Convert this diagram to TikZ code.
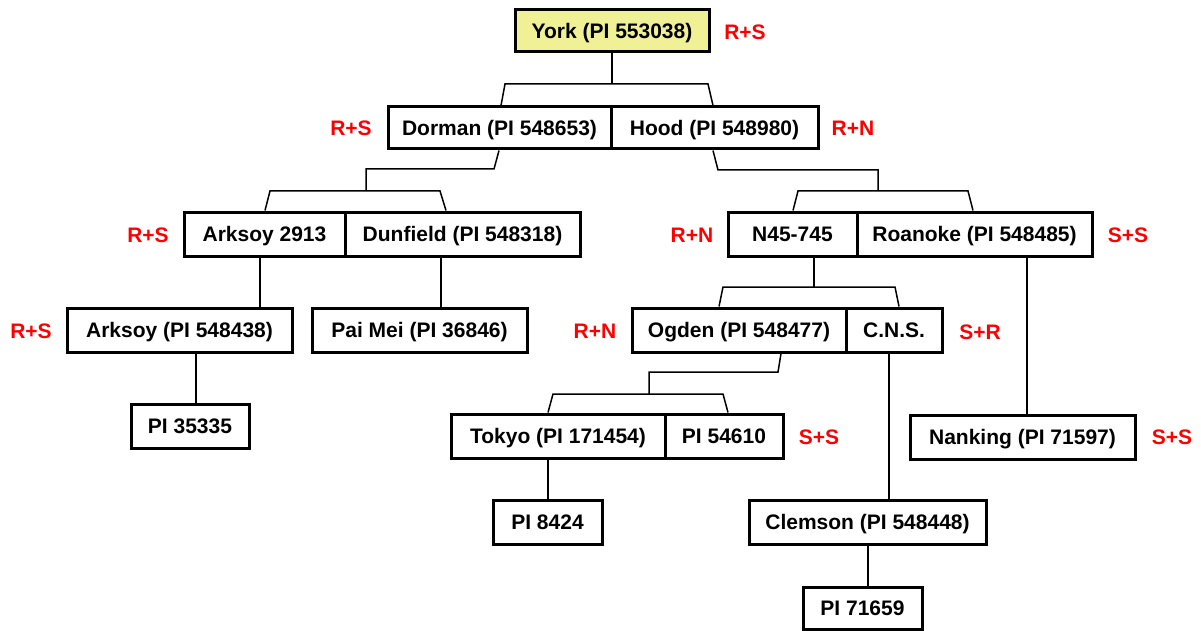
\documentclass[tikz,border=0pt]{standalone}
\usepackage{fontspec}
\setmainfont{Liberation Sans}
\definecolor{yorkfill}{RGB}{240,240,150}
\begin{document}
\begin{tikzpicture}[x=1pt,y=-1pt,
    box/.style={draw,line width=3pt,fill=white,inner sep=0pt,minimum height=44pt,
      text height=15pt,text depth=0pt,font=\fontsize{21}{25}\selectfont\bfseries},
    cross/.style={text=red,font=\fontsize{21}{25}\selectfont\bfseries},
    link/.style={line width=1.5pt}]
  \useasboundingbox (0,0) rectangle (1201,631);
  % generation 0 and 1
  \node[box,fill=yorkfill,minimum width=194pt,minimum height=42pt] (york) at (612,31) {York (PI 553038)};
  \node[cross] (yorkx) at (745,32) {R+S};
  \node[box,minimum width=223pt,minimum height=42pt] (dorman) at (499.5,128) {Dorman (PI 548653)};
  \node[box,minimum width=207pt,minimum height=42pt] (hood) at (714.5,128) {Hood (PI 548980)};
  \node[cross] (dormanx) at (351,128) {R+S};
  \node[cross] (hoodx) at (853,128) {R+N};
  % generation 2
  \node[box,minimum width=161pt] (ark2913) at (264.5,234) {Arksoy 2913};
  \node[box,minimum width=235pt] (dunfield) at (462.5,234) {Dunfield (PI 548318)};
  \node[box,minimum width=129pt] (n45) at (792.5,234) {N45-745};
  \node[box,minimum width=235pt] (roanoke) at (974.5,234) {Roanoke (PI 548485)};
  \node[cross] (ark2913x) at (148,235) {R+S};
  \node[cross] (n45x) at (692,235) {R+N};
  \node[cross] (roanokex) at (1128,235) {S+S};
  % generation 3
  \node[box,minimum width=225pt] (arkpi) at (179.5,330) {Arksoy (PI 548438)};
  \node[box,minimum width=215pt] (paimei) at (419.5,330) {Pai Mei (PI 36846)};
  \node[box,minimum width=214pt] (ogden) at (739,330) {Ogden (PI 548477)};
  \node[box,minimum width=96pt] (cns) at (894,330) {C.N.S.};
  \node[cross] (arkpix) at (31,331) {R+S};
  \node[cross] (ogdenx) at (595,331) {R+N};
  \node[cross] (cnsx) at (980,332) {S+R};
  % generation 4 and further
  \node[box,minimum width=118pt] (pi35335) at (190,426) {PI 35335};
  \node[box,minimum width=214pt] (tokyo) at (558,436) {Tokyo (PI 171454)};
  \node[box,minimum width=118pt] (pi54610) at (724,436) {PI 54610};
  \node[box,minimum width=225pt] (nanking) at (1022.5,437) {Nanking (PI 71597)};
  \node[cross] (tokyox) at (819,437) {S+S};
  \node[cross] (nankingx) at (1172,437) {S+S};
  \node[box,minimum width=109pt] (pi8424) at (547.5,522) {PI 8424};
  \node[box,minimum width=237pt] (clemson) at (867.5,522) {Clemson (PI 548448)};
  \node[box,minimum width=119pt,minimum height=42pt] (pi71659) at (862.5,608) {PI 71659};
  % brackets
  \draw[link] (york.south) -- (york.south |- 0,84);
  \draw[link] (dorman.north -| 501,0) -- (505,84) -- (708,84) -- (hood.north -| 713,0);
  \draw[link] (dorman.south -| 499,0) -- (494,169) -| (366,191);
  \draw[link] (ark2913.north -| 265,0) -- (270,191) -- (440,191) -- (dunfield.north -| 446,0);
  \draw[link] (hood.south -| 713,0) -- (718,170) -| (878,191);
  \draw[link] (n45.north -| 793,0) -- (798,191) -- (968,191) -- (roanoke.north -| 973,0);
  \draw[link] (n45.south -| 814,0) -- (814,287);
  \draw[link] (ogden.north -| 719,0) -- (723,287) -- (895,287) -- (cns.north -| 899,0);
  \draw[link] (ogden.south -| 781,0) -- (778,372) -| (649,394);
  \draw[link] (tokyo.north -| 548,0) -- (553,394) -- (723,394) -- (pi54610.north -| 728,0);
  % single lines
  \foreach \a/\b/\x in {ark2913/arkpi/260, dunfield/paimei/441, arkpi/pi35335/196,
      roanoke/nanking/1027, cns/clemson/889, tokyo/pi8424/548, clemson/pi71659/868}
    \draw[link] (\a.south -| \x,0) -- (\b.north -| \x,0);
\end{tikzpicture}
\end{document}
